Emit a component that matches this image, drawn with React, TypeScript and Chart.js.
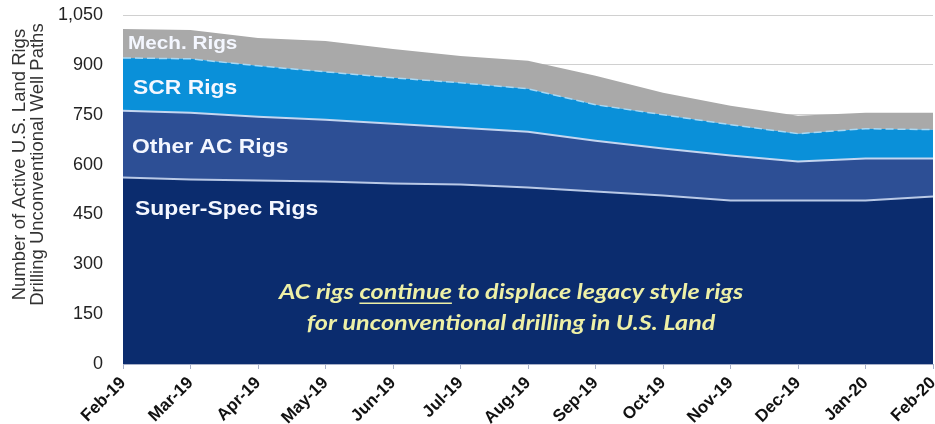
import React, { useEffect, useRef } from "react";
import { Chart, registerables } from "chart.js";

Chart.register(...registerables);

const months = [
  "Feb-19", "Mar-19", "Apr-19", "May-19", "Jun-19", "Jul-19", "Aug-19",
  "Sep-19", "Oct-19", "Nov-19", "Dec-19", "Jan-20", "Feb-20",
];
const superSpecRigs = [561, 555, 552, 549, 543, 540, 531, 519, 507, 492, 492, 492, 504];
const otherAcRigs = [201, 201, 192, 186, 180, 171, 168, 153, 141, 135, 117, 126, 114];
const scrRigs = [159, 162, 153, 144, 138, 135, 129, 108, 102, 93, 84, 90, 87];
const mechRigs = [87, 87, 84, 93, 87, 81, 84, 87, 66, 57, 54, 48, 51];

const yMax = 1050;
const yStep = 150;
const yTitleLines = ["Number of Active U.S. Land Rigs", "Drilling Unconventional Well Paths"];

const seriesLabels = [
  { text: "Mech. Rigs", value: 963, size: 19, dx: 5 },
  { text: "SCR Rigs", value: 831, size: 21, dx: 10 },
  { text: "Other AC Rigs", value: 651, size: 21, dx: 9 },
  { text: "Super-Spec Rigs", value: 465, size: 21, dx: 12 },
];
const noteLine1 = ["AC rigs ", "continue", " to displace legacy style rigs"];
const noteLine2 = "for unconventional drilling in U.S. Land";
const noteValues = [216, 123];
const noteCenterIndex = 5.75;

const overlayPlugin = {
  id: "overlay",
  afterDatasetsDraw(chart: any) {
    const { ctx, chartArea, scales } = chart;
    const y = scales.y;
    const x = scales.x;
    ctx.save();
    // series labels
    ctx.fillStyle = "#F4F7FF";
    ctx.textBaseline = "middle";
    ctx.textAlign = "left";
    for (const l of seriesLabels) {
      ctx.save();
      ctx.font = `bold ${l.size}px "Liberation Sans", Arial, sans-serif`;
      ctx.translate(chartArea.left + l.dx, y.getPixelForValue(l.value));
      ctx.scale(1.09, 1);
      ctx.fillText(l.text, 0, 0);
      ctx.restore();
    }
    // note
    const sxScale = 1.2;
    const cx = x.getPixelForValue(noteCenterIndex);
    ctx.font = `italic bold 21px Lato, "Open Sans", sans-serif`;
    ctx.fillStyle = "#EEF0A6";
    const full = noteLine1.join("");
    const w = ctx.measureText(full).width;
    const y1 = y.getPixelForValue(noteValues[0]);
    ctx.save();
    ctx.translate(cx, y1);
    ctx.scale(sxScale, 1);
    let sx = -w / 2;
    for (let i = 0; i < noteLine1.length; i++) {
      const part = noteLine1[i];
      const pw = ctx.measureText(part).width;
      ctx.fillText(part, sx, 0);
      if (i === 1) {
        ctx.strokeStyle = "#EEF0A6";
        ctx.lineWidth = 1.5;
        ctx.beginPath();
        ctx.moveTo(sx, 11);
        ctx.lineTo(sx + pw, 11);
        ctx.stroke();
      }
      sx += pw;
    }
    ctx.restore();
    ctx.save();
    ctx.translate(cx, y.getPixelForValue(noteValues[1]));
    ctx.scale(sxScale, 1);
    ctx.textAlign = "center";
    ctx.fillText(noteLine2, 0, 0);
    ctx.restore();
    ctx.restore();

    // y title
    ctx.save();
    ctx.fillStyle = "#333333";
    ctx.font = `18.5px "Liberation Sans", Arial, sans-serif`;
    ctx.textAlign = "center";
    ctx.textBaseline = "middle";
    const cy = y.getPixelForValue(600);
    yTitleLines.forEach((t, i) => {
      ctx.save();
      ctx.translate(20 + i * 18, cy);
      ctx.rotate(-Math.PI / 2);
      ctx.fillText(t, 0, 0);
      ctx.restore();
    });
    ctx.restore();
  },
};

export default function App() {
  const ref = useRef<HTMLCanvasElement | null>(null);
  useEffect(() => {
    document.body.style.margin = "0";
    const canvas = ref.current!;
    const chart = new Chart(canvas, {
      type: "line",
      data: {
        labels: months,
        datasets: [
          {
            label: "Super-Spec Rigs",
            data: superSpecRigs,
            backgroundColor: "#0B2C6E",
            borderColor: "#B9C9E6",
            borderWidth: 2,
            fill: "origin",
            pointRadius: 0,
            tension: 0,
          },
          {
            label: "Other AC Rigs",
            data: otherAcRigs,
            backgroundColor: "#2D4F95",
            borderColor: "#C4D6F0",
            borderWidth: 2,
            fill: "-1",
            pointRadius: 0,
            tension: 0,
          },
          {
            label: "SCR Rigs",
            data: scrRigs,
            backgroundColor: "#0A90D9",
            borderColor: "#A8D8F4",
            borderWidth: 1.5,
            borderDash: [8, 4],
            fill: "-1",
            pointRadius: 0,
            tension: 0,
          },
          {
            label: "Mech. Rigs",
            data: mechRigs,
            backgroundColor: "#A9A9A9",
            borderColor: "#A9A9A9",
            borderWidth: 0,
            fill: "-1",
            pointRadius: 0,
            tension: 0,
          },
        ],
      },
      options: {
        responsive: false,
        animation: false,
        devicePixelRatio: 1,
        layout: { padding: { top: 15, right: 2, left: 0, bottom: 0 } },
        plugins: { legend: { display: false }, tooltip: { enabled: false } },
        scales: {
          x: {
            grid: {
              drawOnChartArea: false,
              drawTicks: true,
              tickLength: 5,
              color: "#A8B0C8",
            },
            border: { display: true, color: "#A8B0C8" },
            ticks: {
              maxRotation: 45,
              minRotation: 45,
              autoSkip: false,
              padding: 4,
              color: "#111111",
              font: { family: '"Liberation Sans", Arial, sans-serif', size: 17, weight: "bold" },
            },
            afterFit(scale: any) {
              scale.height = 60;
              scale.paddingLeft = 0;
              scale.paddingRight = 0;
            },
          },
          y: {
            stacked: true,
            min: 0,
            max: yMax,
            grid: { color: "#D0D0D0", drawTicks: false, lineWidth: 1 },
            border: { display: false },
            ticks: {
              stepSize: yStep,
              padding: 20,
              color: "#222222",
              font: { family: '"Liberation Sans", Arial, sans-serif', size: 18 },
              callback: (v: any) => Number(v).toLocaleString("en-US"),
            },
            afterFit(scale: any) {
              scale.width = 123;
              scale.paddingTop = 0;
              scale.paddingBottom = 0;
            },
          },
        },
      },
      plugins: [overlayPlugin],
    });
    return () => chart.destroy();
  }, []);
  return (
    <div style={{ width: 935, height: 424 }}>
      <canvas ref={ref} width={935} height={424} style={{ display: "block" }} />
    </div>
  );
}
